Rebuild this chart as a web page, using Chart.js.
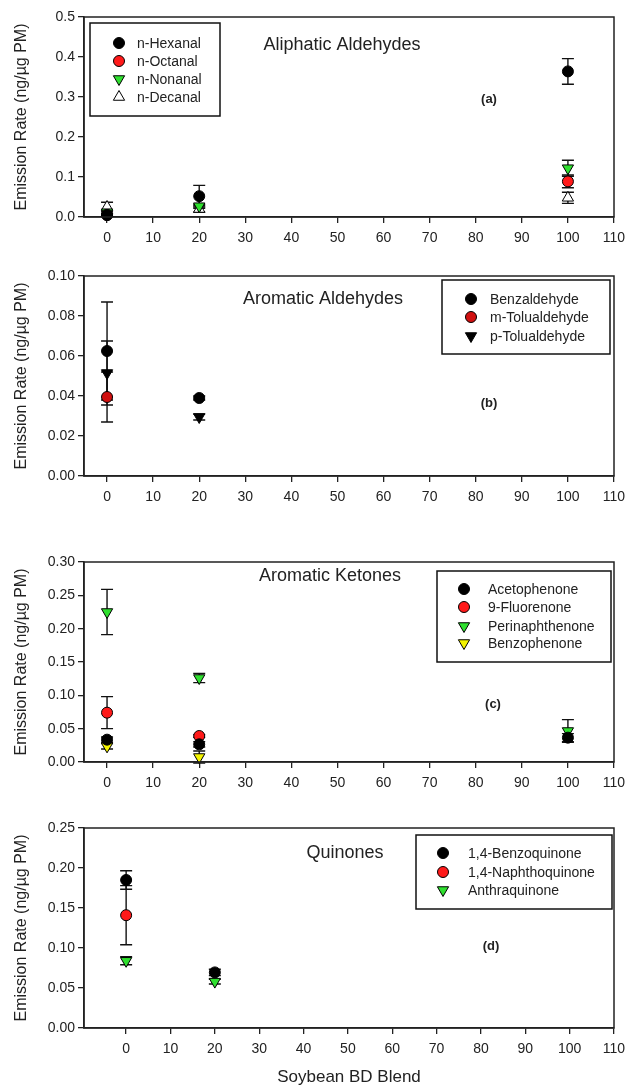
<!DOCTYPE html>
<html lang="en">
<head>
<meta charset="UTF-8" />
<title>Emission Rate vs Soybean BD Blend</title>
<script src="https://cdn.jsdelivr.net/npm/chart.js"></script>
<style>
  body { margin: 0; background: #fff; font-family: Arial, "Liberation Sans", sans-serif; }
  .panel { position: absolute; left: 0; width: 628px; }
</style>
</head>
<body>
<div class="panel" style="top:0px;height:247px"><canvas id="chartA"></canvas></div>
<div class="panel" style="top:259px;height:247px"><canvas id="chartB"></canvas></div>
<div class="panel" style="top:545px;height:247px"><canvas id="chartC"></canvas></div>
<div class="panel" style="top:811px;height:277px"><canvas id="chartD"></canvas></div>

<script>
// soybean biodiesel blend (%)
const blends = [0, 20, 100];
const xTicks = [0, 10, 20, 30, 40, 50, 60, 70, 80, 90, 100, 110];

// (a) aliphatic aldehydes, ng/ug PM
const hexanal = [0.005, 0.052, 0.364];
const hexanalErr = [0.003, 0.027, 0.032];
const octanal = [0.005, null, 0.089];
const octanalErr = [0.003, null, 0.016];
const nonanal = [0.012, 0.027, 0.122];
const nonanalErr = [0.004, 0.005, 0.02];
const decanal = [0.025, 0.02, 0.048];
const decanalErr = [0.012, 0.008, 0.014];

// (b) aromatic aldehydes
const benzaldehyde = [0.0625, 0.039, null];
const benzaldehydeErr = [0.0245, 0.001, null];
const mTolualdehyde = [0.0395, null, null];
const mTolualdehydeErr = [0.0125, null, null];
const pTolualdehyde = [0.0515, 0.0295, null];
const pTolualdehydeErr = [0.016, 0.0015, null];

// (c) aromatic ketones
const acetophenone = [0.0335, 0.0265, 0.0365];
const acetophenoneErr = [0.004, 0.004, 0.006];
const fluorenone = [0.074, 0.039, null];
const fluorenoneErr = [0.024, 0.002, null];
const perinaphthenone = [0.225, 0.126, 0.0465];
const perinaphthenoneErr = [0.034, 0.007, 0.017];
const benzophenone = [0.0235, 0.0075, null];
const benzophenoneErr = [0.004, 0.009, null];

// (d) quinones
const benzoquinone = [0.185, 0.0695, null];
const benzoquinoneErr = [0.0115, 0.004, null];
const naphthoquinone = [0.141, null, null];
const naphthoquinoneErr = [0.037, null, null];
const anthraquinone = [0.084, 0.058, null];
const anthraquinoneErr = [0.005, 0.003, null];

const RED = "#ff1a1a", GREEN = "#2fe02f", YELLOW = "#f4f400";

function series(label, values, errs, fill, shape) {
  const pts = [];
  blends.forEach((x, i) => {
    if (values[i] != null) pts.push({ x: x, y: values[i], e: errs[i] });
  });
  const tri = shape !== "circle";
  return {
    label: label,
    data: pts,
    backgroundColor: fill,
    borderColor: "#000",
    borderWidth: 1,
    clip: false,
    pointStyle: tri ? "triangle" : "circle",
    pointRotation: shape === "down" ? 180 : 0,
    pointRadius: tri ? 6.5 : 5.5,
    pointHoverRadius: tri ? 6.5 : 5.5,
    shape: shape
  };
}

// vertical error bars with caps, under the markers
const errorBars = {
  id: "errorBars",
  beforeDatasetsDraw(chart) {
    const ctx = chart.ctx, y = chart.scales.y;
    ctx.save();
    ctx.strokeStyle = "#111";
    ctx.lineWidth = 1.4;
    chart.data.datasets.forEach((ds, i) => {
      const meta = chart.getDatasetMeta(i);
      meta.data.forEach((pt, j) => {
        const d = ds.data[j];
        if (!d.e) return;
        const top = y.getPixelForValue(d.y + d.e);
        const bot = y.getPixelForValue(d.y - d.e);
        ctx.beginPath();
        ctx.moveTo(pt.x, top); ctx.lineTo(pt.x, bot);
        ctx.moveTo(pt.x - 6, top); ctx.lineTo(pt.x + 6, top);
        ctx.moveTo(pt.x - 6, bot); ctx.lineTo(pt.x + 6, bot);
        ctx.stroke();
      });
    });
    ctx.restore();
  }
};

function marker(ctx, shape, fill, x, y) {
  ctx.beginPath();
  if (shape === "circle") {
    ctx.arc(x, y, 5.5, 0, Math.PI * 2);
  } else {
    const r = 6.5, s = shape === "down" ? -1 : 1;
    for (let k = 0; k < 3; k++) {
      const a = k * 2 * Math.PI / 3;
      const px = x + Math.sin(a) * r, py = y - s * Math.cos(a) * r;
      k ? ctx.lineTo(px, py) : ctx.moveTo(px, py);
    }
    ctx.closePath();
  }
  ctx.fillStyle = fill;
  ctx.fill();
  ctx.lineWidth = 1;
  ctx.strokeStyle = "#000";
  ctx.stroke();
}

// frame, panel title, tag and boxed legend
const decor = {
  id: "decor",
  afterDraw(chart, args, o) {
    const ctx = chart.ctx, a = chart.chartArea;
    ctx.save();
    ctx.strokeStyle = "#222";
    ctx.lineWidth = 1.5;
    ctx.strokeRect(a.left, a.top, a.right - a.left, a.bottom - a.top);

    ctx.fillStyle = "#222";
    ctx.textBaseline = "middle";
    ctx.textAlign = "center";
    ctx.font = "18px Arial, 'Liberation Sans'";
    ctx.fillText(o.title, o.titleX, o.titleY);
    ctx.font = "bold 13px Arial, 'Liberation Sans'";
    ctx.fillText(o.tag, o.tagX, o.tagY);

    const b = o.box;
    ctx.lineWidth = 1.5;
    ctx.strokeStyle = "#111";
    ctx.strokeRect(b[0], b[1], b[2] - b[0], b[3] - b[1]);
    ctx.textAlign = "left";
    ctx.font = "14px Arial, 'Liberation Sans'";
    chart.data.datasets.forEach((ds, i) => {
      const ry = o.rows[i];
      marker(ctx, ds.shape, ds.backgroundColor, o.markerX, ry);
      ctx.fillStyle = "#222";
      ctx.fillText(ds.label, o.textX, ry + 1);
    });
    ctx.restore();
  }
};

function makeChart(id, datasets, yMax, yStep, dec, xMin, deco, withTitle) {
  return new Chart(document.getElementById(id), {
    type: "scatter",
    data: { datasets: datasets },
    plugins: [errorBars, decor],
    options: {
      responsive: true,
      maintainAspectRatio: false,
      animation: false,
      events: [],
      layout: { padding: { top: 17, right: 14, left: 0, bottom: 0 } },
      plugins: { legend: { display: false }, tooltip: { enabled: false }, decor: deco },
      scales: {
        x: {
          type: "linear",
          min: xMin,
          max: 110,
          afterBuildTicks: s => { s.ticks = xTicks.map(v => ({ value: v })); },
          afterFit: s => {
            s.height = withTitle ? 60 : 30;
            s.paddingRight = 0;
            s.paddingLeft = 0;
          },
          grid: { drawOnChartArea: false, tickLength: 6, color: "#222", lineWidth: 1.3 },
          border: { color: "#222", width: 1.5 },
          ticks: { color: "#222", font: { size: 14, family: "Arial, 'Liberation Sans'" }, padding: 7, maxRotation: 0 },
          title: {
            display: withTitle,
            text: "Soybean BD Blend",
            color: "#222",
            font: { size: 17, family: "Arial, 'Liberation Sans'" },
            padding: { top: 0, bottom: 0 }
          }
        },
        y: {
          min: 0,
          max: yMax,
          afterFit: s => { s.width = 84; },
          grid: { drawOnChartArea: false, tickLength: 6, color: "#222", lineWidth: 1.3 },
          border: { color: "#222", width: 1.5 },
          ticks: {
            stepSize: yStep,
            color: "#222",
            padding: 3,
            font: { size: 14, family: "Arial, 'Liberation Sans'" },
            callback: v => v.toFixed(dec)
          },
          title: {
            display: true,
            text: "Emission Rate (ng/\u00b5g PM)",
            color: "#222",
            font: { size: 16, family: "Arial, 'Liberation Sans'" },
            padding: { top: 12, bottom: 0 }
          }
        }
      }
    }
  });
}

makeChart("chartA", [
  series("n-Hexanal", hexanal, hexanalErr, "#000", "circle"),
  series("n-Octanal", octanal, octanalErr, RED, "circle"),
  series("n-Nonanal", nonanal, nonanalErr, GREEN, "down"),
  series("n-Decanal", decanal, decanalErr, "#fff", "up")
], 0.5, 0.1, 1, -5, {
  title: "Aliphatic Aldehydes", titleX: 342, titleY: 45,
  tag: "(a)", tagX: 489, tagY: 99,
  box: [90, 23, 220, 116], rows: [43, 61, 79, 97], markerX: 119, textX: 137
}, false);

makeChart("chartB", [
  series("Benzaldehyde", benzaldehyde, benzaldehydeErr, "#000", "circle"),
  series("m-Tolualdehyde", mTolualdehyde, mTolualdehydeErr, "#d01010", "circle"),
  series("p-Tolualdehyde", pTolualdehyde, pTolualdehydeErr, "#000", "down")
], 0.1, 0.02, 2, -5, {
  title: "Aromatic Aldehydes", titleX: 323, titleY: 40,
  tag: "(b)", tagX: 489, tagY: 144,
  box: [442, 21, 610, 95], rows: [40, 58, 77], markerX: 471, textX: 490
}, false);

makeChart("chartC", [
  series("Acetophenone", acetophenone, acetophenoneErr, "#000", "circle"),
  series("9-Fluorenone", fluorenone, fluorenoneErr, RED, "circle"),
  series("Perinaphthenone", perinaphthenone, perinaphthenoneErr, GREEN, "down"),
  series("Benzophenone", benzophenone, benzophenoneErr, YELLOW, "down")
], 0.3, 0.05, 2, -5, {
  title: "Aromatic Ketones", titleX: 330, titleY: 31,
  tag: "(c)", tagX: 493, tagY: 159,
  box: [437, 26, 611, 117], rows: [44, 62, 81, 98], markerX: 464, textX: 488
}, false);

makeChart("chartD", [
  series("1,4-Benzoquinone", benzoquinone, benzoquinoneErr, "#000", "circle"),
  series("1,4-Naphthoquinone", naphthoquinone, naphthoquinoneErr, RED, "circle"),
  series("Anthraquinone", anthraquinone, anthraquinoneErr, GREEN, "down")
], 0.25, 0.05, 2, -9.5, {
  title: "Quinones", titleX: 345, titleY: 42,
  tag: "(d)", tagX: 491, tagY: 135,
  box: [416, 24, 612, 98], rows: [42, 61, 79], markerX: 443, textX: 468
}, true);
</script>
</body>
</html>
